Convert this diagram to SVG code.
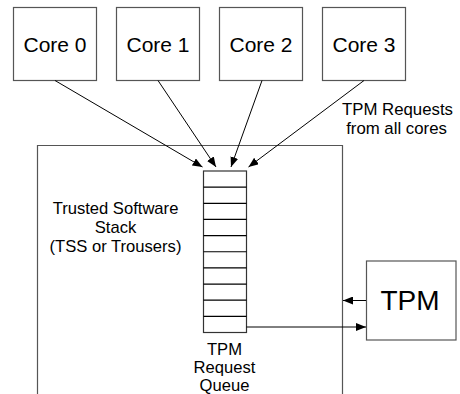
<svg xmlns="http://www.w3.org/2000/svg" width="460" height="394" viewBox="0 0 460 394">
<defs>
<marker id="ah" viewBox="0 0 10 8" refX="10" refY="4" markerWidth="10" markerHeight="8" markerUnits="userSpaceOnUse" orient="auto">
<path d="M0,0 L10,4 L0,8 Z" fill="#000"/>
</marker>
<style>
.box{fill:#fff;stroke:#555;stroke-width:1.2}
.q{fill:#fff;stroke:#333;stroke-width:1.2}
.row{stroke:#000;stroke-width:1.2}
.con{stroke:#000;stroke-width:1;fill:none;marker-end:url(#ah)}
text{font-family:"Liberation Sans",Arial,sans-serif;fill:#000;text-anchor:middle}
.big{font-size:21px}
.sm{font-size:16.6px}
</style>
</defs>
<rect width="460" height="394" fill="#fff"/>
<g id="tss">
<path d="M37.5,400 L37.5,145.5 L342.5,145.5 L342.5,400" class="box" fill="none"/>
<text class="sm" x="115.5" y="213.5">Trusted Software</text>
<text class="sm" x="115.5" y="232.5">Stack</text>
<text class="sm" x="115.5" y="251.5">(TSS or Trousers)</text>
</g>
<g id="core0"><rect class="box" x="13.5" y="7.5" width="83" height="73"/><text class="big" x="55" y="52">Core 0</text></g>
<g id="core1"><rect class="box" x="116.5" y="7.5" width="83" height="73"/><text class="big" x="158" y="52">Core 1</text></g>
<g id="core2"><rect class="box" x="219.5" y="7.5" width="83" height="73"/><text class="big" x="261" y="52">Core 2</text></g>
<g id="core3"><rect class="box" x="322.5" y="7.5" width="83" height="73"/><text class="big" x="364" y="52">Core 3</text></g>
<g id="queue">
<rect class="q" x="203.5" y="171" width="43" height="161.5"/>
<path class="row" d="M203.5,187.15H246.5M203.5,203.3H246.5M203.5,219.45H246.5M203.5,235.6H246.5M203.5,251.75H246.5M203.5,267.9H246.5M203.5,284.05H246.5M203.5,300.2H246.5M203.5,316.35H246.5"/>
<text class="sm" x="224.5" y="355">TPM</text>
<text class="sm" x="224.5" y="373">Request</text>
<text class="sm" x="224.5" y="391">Queue</text>
</g>
<g id="tpm"><rect class="box" x="366.5" y="261" width="89.5" height="79"/><text x="410" y="310" style="font-size:28px">TPM</text></g>
<g id="label"><text x="397.5" y="115" style="font-size:16.8px">TPM Requests</text><text x="396.5" y="134" style="font-size:16.8px">from all cores</text></g>
<g id="connectors">
<line class="con" x1="55" y1="80.5" x2="202.5" y2="167"/>
<line class="con" x1="158" y1="80.5" x2="216" y2="167"/>
<line class="con" x1="262" y1="80.5" x2="231" y2="167"/>
<line class="con" x1="364" y1="80.5" x2="248.5" y2="167"/>
<line class="con" x1="246.5" y1="327" x2="366" y2="327"/>
<line class="con" x1="366" y1="300.5" x2="343" y2="300.5"/>
</g>
</svg>
